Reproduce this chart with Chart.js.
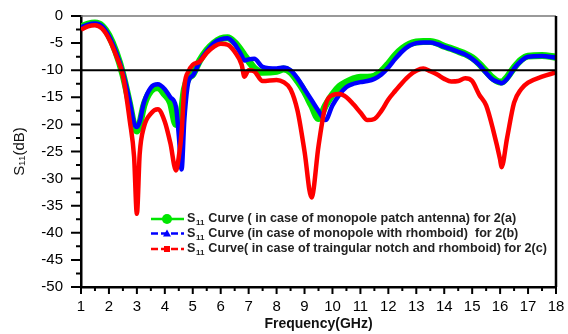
<!DOCTYPE html>
<html>
<head>
<meta charset="utf-8">
<script src="https://cdn.jsdelivr.net/npm/chart.js@4"></script>
<style>
  body { margin: 0; background: #fff; }
  canvas { display: block; }
</style>
</head>
<body>
<canvas id="chart" width="568" height="334"></canvas>
<script>
// frequency points (GHz), shared by all three curves
var freq = [1, 1.25, 1.5, 1.75, 2, 2.25, 2.5, 2.75, 2.9, 3, 3.1, 3.25, 3.5, 3.75, 4,
  4.2, 4.4, 4.5, 4.6, 4.7, 4.85, 5, 5.25, 5.5, 5.75, 6, 6.25, 6.5, 6.75, 6.85,
  7, 7.2, 7.5, 8, 8.25, 8.5, 8.75, 9, 9.25, 9.5, 9.75, 10, 10.25, 10.5, 10.75,
  11, 11.25, 11.5, 11.75, 12, 12.25, 12.5, 12.75, 13, 13.25, 13.5, 13.75, 14, 14.25, 14.5,
  14.75, 15, 15.25, 15.5, 15.75, 16, 16.05, 16.25, 16.5, 16.75, 17, 17.5, 18];

// S11 (dB) - monopole patch antenna, 2(a)
var s11a = [-2.0, -1.5, -1.3, -1.8, -3.6, -6.6, -10.8, -16.5, -20.3, -21.2, -20, -16.5, -13.8, -13.2, -14.5,
  -16, -20, -19, -17.4, -13.5, -11.5, -10.8, -8.2, -6.3, -5.0, -4.2, -4.0, -4.9, -6.5, -7.3,
  -8.3, -9.6, -10.4, -10.2, -9.8, -10.4, -12, -14, -16.5, -18.9, -16.5, -14.5, -13, -12.2, -11.6,
  -11.3, -11.3, -11.1, -10.2, -8.8, -7.2, -6.0, -5.2, -4.8, -4.7, -4.7, -5.0, -5.6, -6.0, -6.5,
  -7.0, -7.7, -8.8, -10.2, -11.5, -12.2, -12.2, -11.3, -9.5, -8.1, -7.4, -7.3, -7.6];

// S11 (dB) - monopole with rhomboid, 2(b)
var s11b = [-2.1, -1.6, -1.4, -1.9, -3.7, -6.6, -10.5, -16, -19.8, -20.5, -19.5, -16, -13.2, -12.6, -13.5,
  -15, -16.8, -22, -28.3, -19, -12, -11, -8.4, -6.5, -5.0, -4.3, -4.1, -5.2, -7.3, -8.2,
  -8.0, -7.9, -9.4, -9.7, -9.5, -10, -11.5, -13.5, -15.5, -17.5, -19.2, -16.5, -14.5, -13.1, -12.5,
  -12.2, -12, -11.6, -10.8, -9.5, -7.9, -6.5, -5.5, -5.0, -4.9, -4.9, -5.2, -5.7, -6.1, -6.6,
  -7.1, -7.9, -9.0, -10.5, -11.8, -12.3, -12.4, -11.6, -9.7, -8.3, -7.5, -7.4, -7.7];

// S11 (dB) - triangular notch and rhomboid, 2(c)
var s11c = [-2.5, -1.9, -1.7, -2.3, -4.2, -7.2, -11, -19.5, -26, -36.5, -25.5, -20.5, -18, -17.2, -19.5,
  -23.5, -28.5, -26, -21.5, -13, -10.2, -9, -8.4, -6.8, -5.7, -5.1, -5.3, -6.6, -9, -11.2,
  -10, -10.2, -12, -11.8, -12.2, -13.5, -17.5, -25, -33.5, -24, -16.5, -14.6, -14.4, -15, -16.3,
  -17.8, -19.2, -19, -17.5, -15.4, -13.8, -12.3, -11, -10.1, -9.7, -10.2, -10.8, -11.6, -12.1, -12.0,
  -11.5, -12.0, -14.5, -16.5, -21, -26.5, -27.9, -22.5, -16, -13.5, -12.3, -11.2, -10.4];

var legendText = [
  ' Curve ( in case of monopole patch antenna) for 2(a)',
  ' Curve (in case of monopole with rhomboid)  for 2(b)',
  ' Curve( in case of traingular notch and rhomboid) for 2(c)'
];
var curveColors = ['#00e600', '#0000ff', '#ff0000'];
var refLevel = -10;

function pts(ys) {
  return freq.map(function(f, i) { return {x: f, y: ys[i]}; });
}

var font = 'Liberation Sans, Arial, sans-serif';

// minor/major ticks, -10 dB line, frame and legend
var decor = {
  id: 'decor',
  afterDatasetsDraw: function(chart) {
    var ctx = chart.ctx, a = chart.chartArea;
    var xs = chart.scales.x, ys = chart.scales.y;
    ctx.save();
    // -10 dB reference line
    var yr = ys.getPixelForValue(refLevel);
    ctx.strokeStyle = '#000';
    ctx.lineWidth = 2;
    ctx.beginPath();
    ctx.moveTo(a.left, yr);
    ctx.lineTo(a.right, yr);
    ctx.stroke();
    // top (grey) and right (black) frame
    ctx.strokeStyle = '#777';
    ctx.lineWidth = 1.5;
    ctx.beginPath();
    ctx.moveTo(a.left, a.top);
    ctx.lineTo(a.right, a.top);
    ctx.stroke();
    ctx.strokeStyle = '#000';
    ctx.lineWidth = 2.5;
    ctx.beginPath();
    ctx.moveTo(a.right, a.top);
    ctx.lineTo(a.right, a.bottom);
    ctx.stroke();
    // ticks
    ctx.lineWidth = 2;
    ctx.beginPath();
    for (var v = -50; v <= 0; v += 2.5) {
      var py = ys.getPixelForValue(v);
      var len = (v % 5 === 0) ? 10 : 5;
      ctx.moveTo(a.left - len, py);
      ctx.lineTo(a.left, py);
    }
    for (var f = 1; f <= 18; f += 0.5) {
      var px = xs.getPixelForValue(f);
      var l2 = (f % 1 === 0) ? 7 : 4;
      ctx.moveTo(px, a.bottom);
      ctx.lineTo(px, a.bottom + l2);
    }
    ctx.stroke();

    // legend
    var rows = [219, 233.5, 249];
    for (var i = 0; i < 3; i++) {
      var y = rows[i];
      ctx.strokeStyle = curveColors[i];
      ctx.fillStyle = curveColors[i];
      ctx.lineWidth = 2.5;
      ctx.setLineDash(i === 0 ? [] : [7, 3]);
      ctx.beginPath();
      ctx.moveTo(151, y);
      ctx.lineTo(184, y);
      ctx.stroke();
      ctx.setLineDash([]);
      ctx.beginPath();
      if (i === 0) {
        ctx.arc(167, y, 5, 0, Math.PI * 2);
      } else if (i === 1) {
        ctx.moveTo(167, y - 4);
        ctx.lineTo(171, y + 3);
        ctx.lineTo(163, y + 3);
        ctx.closePath();
      } else {
        ctx.rect(164, y - 3, 6, 6);
      }
      ctx.fill();
      ctx.fillStyle = '#222';
      ctx.textBaseline = 'middle';
      ctx.textAlign = 'left';
      ctx.font = 'bold 12.6px ' + font;
      ctx.fillText('S', 187, y);
      var w = ctx.measureText('S').width;
      ctx.font = 'bold 8px ' + font;
      ctx.fillText('11', 187 + w + 0.5, y + 4);
      var w2 = ctx.measureText('11').width;
      ctx.font = 'bold 12.6px ' + font;
      ctx.fillText(legendText[i], 187 + w + w2 + 1, y);
    }
    ctx.restore();
  }
};

var ctx = document.getElementById('chart');
var myChart = new Chart(ctx, {
  type: 'line',
  data: {
    datasets: [{
      label: 'S11' + legendText[0],
      data: pts(s11a),
      borderColor: curveColors[0],
      borderWidth: 7,
      pointRadius: 0,
      cubicInterpolationMode: 'monotone',
      order: 3
    }, {
      label: 'S11' + legendText[1],
      data: pts(s11b),
      borderColor: curveColors[1],
      borderWidth: 4.5,
      pointRadius: 0,
      cubicInterpolationMode: 'monotone',
      order: 2
    }, {
      label: 'S11' + legendText[2],
      data: pts(s11c),
      borderColor: curveColors[2],
      borderWidth: 4.5,
      pointRadius: 0,
      cubicInterpolationMode: 'monotone',
      order: 1
    }]
  },
  options: {
    responsive: false,
    animation: false,
    layout: { padding: { top: 16, right: 12, left: 0, bottom: 0 } },
    plugins: { legend: { display: false }, tooltip: { enabled: false } },
    scales: {
      x: {
        type: 'linear',
        min: 1,
        max: 18,
        afterFit: function(s) { s.height = 47; s.paddingLeft = 0; s.paddingRight = 0; },
        ticks: { stepSize: 1, color: '#000', padding: 11, font: { family: font, size: 15 } },
        grid: { display: false, drawTicks: false },
        border: { display: true, color: '#000', width: 2.5 },
        title: {
          display: true,
          text: 'Frequency(GHz)',
          color: '#111',
          font: { family: font, size: 14, weight: 'bold' },
          padding: { top: 0, bottom: 1 }
        }
      },
      y: {
        min: -50,
        max: 0,
        afterFit: function(s) { s.width = 81; s.paddingTop = 0; s.paddingBottom = 0; },
        ticks: { stepSize: 5, color: '#000', padding: 18, font: { family: font, size: 15 } },
        grid: { display: false, drawTicks: false },
        border: { display: true, color: '#000', width: 2.5 },
        title: {
          display: true,
          text: 'S\u2081\u2081(dB)',
          color: '#111',
          font: { family: font, size: 15 },
          padding: { top: 11, bottom: 0 }
        }
      }
    }
  },
  plugins: [decor]
});
</script>
</body>
</html>
